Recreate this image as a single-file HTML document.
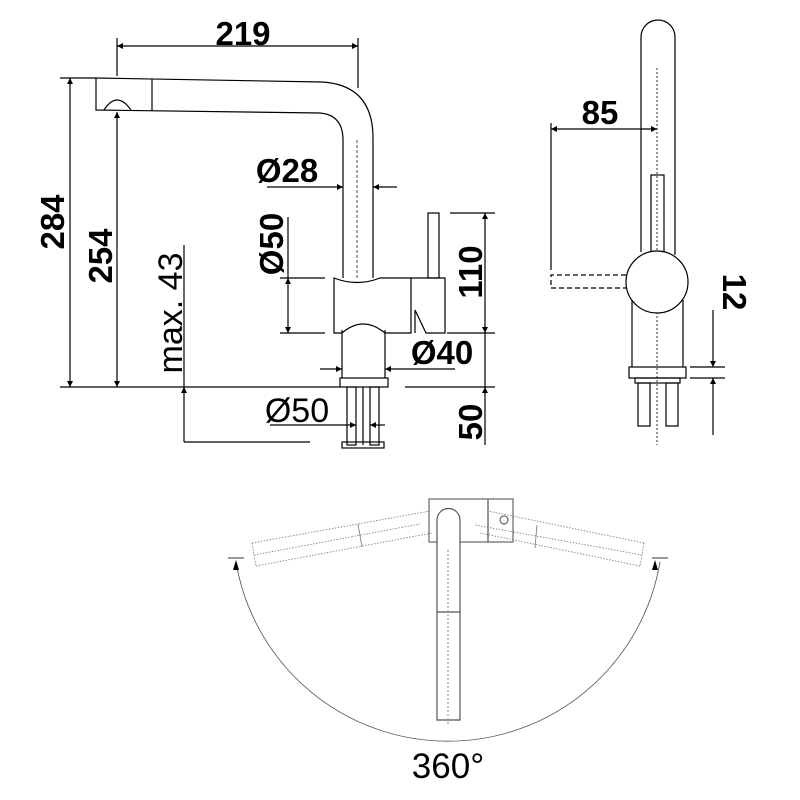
<!DOCTYPE html>
<html><head><meta charset="utf-8"><style>html,body{margin:0;padding:0;background:#fff}svg{display:block}</style></head>
<body>
<svg width="800" height="800" viewBox="0 0 800 800" xmlns="http://www.w3.org/2000/svg" font-family="Liberation Sans, sans-serif">
<defs>
<marker id="a" viewBox="0 0 10 10" refX="10" refY="5" markerWidth="14" markerHeight="6" orient="auto-start-reverse" markerUnits="userSpaceOnUse"><path d="M0,0 L10,5 L0,10z" fill="#000"/></marker>
</defs>
<g stroke="#000" stroke-width="1.2" fill="none">
<line x1="117" y1="38" x2="117" y2="76"/><line x1="358" y1="38" x2="358" y2="88"/>
<line x1="117" y1="46" x2="358" y2="46" marker-start="url(#a)" marker-end="url(#a)"/>
<line x1="60" y1="78" x2="96" y2="78"/><line x1="60" y1="387" x2="340" y2="387"/>
<line x1="70" y1="78" x2="70" y2="387" marker-start="url(#a)" marker-end="url(#a)"/>
<line x1="117" y1="112" x2="117" y2="387" marker-start="url(#a)" marker-end="url(#a)"/>
<line x1="184" y1="245" x2="184" y2="387"/>
<line x1="184" y1="387" x2="184" y2="442" marker-start="url(#a)"/>
<line x1="184" y1="442" x2="310" y2="442"/>
<path d="M96,78 L322,82 Q373,85 373,138 L373,278"/>
<path d="M96,78 L96,110 L320,113 Q343,115 343,140 L343,278"/>
<line x1="152" y1="79" x2="152" y2="111"/>
<path d="M104,110 Q117,90 131,110"/>
<line x1="357" y1="140" x2="357" y2="278" stroke-dasharray="3,2" stroke-width="0.7"/>
<path d="M334,278 Q357,287 380,278 L411,278 L411,333 L385,333 Q363,315 342,333 L334,333 Z"/>
<path d="M411,278 L445,278 L445,333 L426,333 L415,310 L415,333"/>
<rect x="428" y="213" width="11" height="65"/>
<path d="M342,330 L342,378 M385,330 L385,378"/>
<rect x="340" y="378" width="48" height="9"/>
<rect x="347" y="387" width="9" height="58"/><rect x="370" y="387" width="9" height="58"/>
<line x1="363" y1="387" x2="363" y2="445"/>
<rect x="342" y="442" width="42" height="6"/>
<line x1="267" y1="187" x2="343" y2="187" marker-end="url(#a)"/>
<line x1="397" y1="187" x2="373" y2="187" marker-end="url(#a)"/>
<line x1="280" y1="278" x2="325" y2="278"/><line x1="280" y1="333" x2="325" y2="333"/>
<line x1="288" y1="217" x2="288" y2="278"/>
<line x1="288" y1="278" x2="288" y2="333" marker-start="url(#a)" marker-end="url(#a)"/>
<line x1="450" y1="213" x2="495" y2="213"/><line x1="447" y1="333" x2="495" y2="333"/>
<line x1="485" y1="213" x2="485" y2="333" marker-start="url(#a)" marker-end="url(#a)"/>
<line x1="405" y1="387" x2="495" y2="387"/>
<line x1="485" y1="333" x2="485" y2="387"/>
<line x1="485" y1="387" x2="485" y2="445" marker-start="url(#a)"/>
<line x1="320" y1="369" x2="342" y2="369" marker-end="url(#a)"/>
<line x1="455" y1="369" x2="385" y2="369" marker-end="url(#a)"/>
<line x1="270" y1="425" x2="356" y2="425" marker-end="url(#a)"/>
<line x1="385" y1="425" x2="370" y2="425" marker-end="url(#a)"/>

<path d="M641,252 L641,37 A17,17 0 0 1 675,37 L675,255"/>
<rect x="651" y="175" width="13" height="78"/>
<line x1="657" y1="68" x2="657" y2="445" stroke-dasharray="2,2" stroke-width="0.8"/>
<line x1="551" y1="123" x2="551" y2="270"/>
<line x1="551" y1="129" x2="657" y2="129" marker-start="url(#a)" marker-end="url(#a)"/>
<circle cx="657" cy="282" r="31" fill="#fff"/>
<path d="M626,275 L551,275 L551,288 L626,288" stroke-dasharray="5,3"/>
<path d="M632,300 L632,367 M683,300 L683,367"/>
<rect x="629" y="367" width="57" height="11"/>
<rect x="635" y="378" width="45" height="5"/>
<rect x="638" y="383" width="12" height="43"/><rect x="666" y="383" width="12" height="43"/>
<line x1="690" y1="367" x2="725" y2="367"/><line x1="690" y1="378" x2="725" y2="378"/>
<line x1="713" y1="310" x2="713" y2="367" marker-end="url(#a)"/>
<line x1="713" y1="435" x2="713" y2="378" marker-end="url(#a)"/>

<g stroke="#777" stroke-width="0.8" stroke-dasharray="1.5,1.5">
<path d="M252,543 L430,511 M256,566 L432,533 M254,555 L420,524"/>
<line x1="252" y1="543" x2="256" y2="566"/>
<line x1="358" y1="524" x2="362" y2="547" stroke-dasharray="none"/>
<path d="M644,543 L488,511 M640,566 L480,533 M642,555 L475,525"/>
<line x1="644" y1="543" x2="640" y2="566"/>
<line x1="537" y1="525" x2="535" y2="548" stroke-dasharray="none"/>
</g>
<rect x="429" y="499" width="59" height="43" stroke="#666"/>
<rect x="488" y="499" width="25" height="43" stroke="#666"/>
<circle cx="504" cy="520" r="4" stroke="#666"/>
<path d="M437,720 L437,520 A11.5,11.5 0 0 1 460,520 L460,720 Z" fill="#fff" stroke="#555"/>
<line x1="437" y1="612" x2="460" y2="612" stroke="#555"/>
<line x1="448" y1="550" x2="448" y2="725" stroke="#999" stroke-dasharray="2,2"/>
<path d="M236,562 A215,215 0 0 0 660,562" stroke="#555" stroke-width="0.8"/>
<line x1="228" y1="558" x2="244" y2="558" stroke="#555"/>
<line x1="652" y1="558" x2="668" y2="558" stroke="#555"/>
</g>
<path d="M236,560 L233,570 L239,570Z M655,560 L652,570 L658,570Z"/>

<g font-weight="bold" font-size="33" fill="#000">
<text x="243" y="45" text-anchor="middle">219</text>
<text x="287" y="182" text-anchor="middle">Ø28</text>
<text x="442" y="364" text-anchor="middle">Ø40</text>
<text x="600" y="124" text-anchor="middle">85</text>
<text transform="translate(64,222) rotate(-90)" text-anchor="middle">284</text>
<text transform="translate(112,256) rotate(-90)" text-anchor="middle">254</text>
<text transform="translate(283,244) rotate(-90)" text-anchor="middle">Ø50</text>
<text transform="translate(482,272) rotate(-90)" text-anchor="middle">110</text>
<text transform="translate(482,422) rotate(-90)" text-anchor="middle">50</text>
<text transform="translate(723,292) rotate(90)" text-anchor="middle">12</text>
</g>
<text x="297" y="422" font-size="34" text-anchor="middle">Ø50</text>
<text transform="translate(182,313) rotate(-90)" font-size="34" text-anchor="middle">max. 43</text>
<text x="448" y="778" font-size="35" text-anchor="middle">360°</text>
</svg>
</body></html>
